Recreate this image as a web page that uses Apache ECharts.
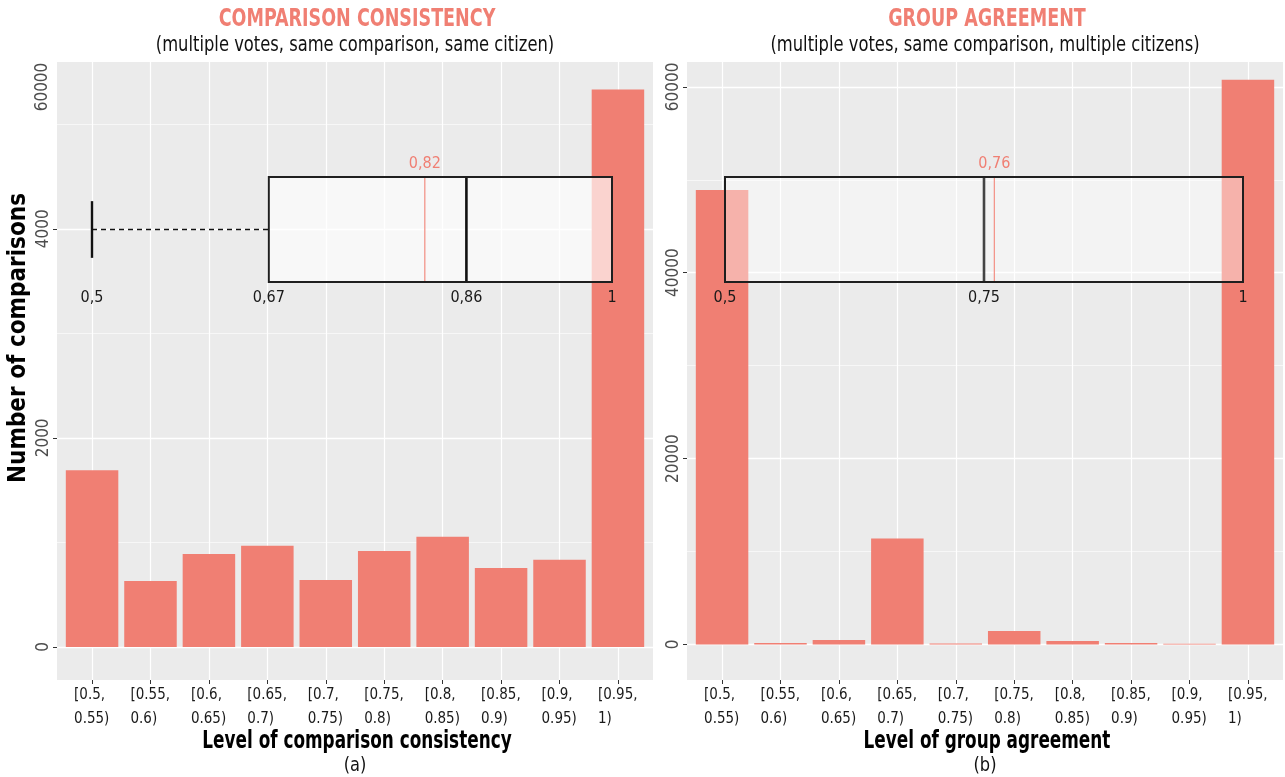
<!DOCTYPE html>
<html>
<head>
<meta charset="utf-8">
<script src="https://cdn.jsdelivr.net/npm/echarts@6/dist/echarts.min.js"></script>
<style>
  html, body { margin: 0; padding: 0; background: #ffffff; }
  #chart { width: 1285px; height: 777px; }
</style>
</head>
<body>
<div id="chart"></div>
<script>
// ---- data -------------------------------------------------------------
const categories = [
  '[0.5, 0.55)', '[0.55, 0.6)', '[0.6, 0.65)', '[0.65, 0.7)', '[0.7, 0.75)',
  '[0.75, 0.8)', '[0.8, 0.85)', '[0.85, 0.9)', '[0.9, 0.95)', '[0.95, 1)'
];
// number of comparisons per level of comparison consistency
const consistencyCounts = [1690, 632, 890, 967, 641, 919, 1053, 756, 833, 5331];
// number of comparisons per level of group agreement
const agreementCounts = [48900, 150, 480, 11400, 100, 1450, 380, 170, 90, 60760];

const consistencyTicks = [0, 2000, 4000];
const consistencyMinorTicks = [1000, 3000, 5000];
const consistencyTopLabel = '60000';
const agreementTicks = [0, 20000, 40000, 60000];
const agreementMinorTicks = [10000, 30000, 50000];

// box summaries: [min, q1, median, q3, max]
const consistencyBox = [0.5, 0.67, 0.86, 1, 1];
const consistencyMean = 0.82;
const agreementBox = [0.5, 0.5, 0.75, 1, 1];
const agreementMean = 0.76;

const titles = ['COMPARISON CONSISTENCY', 'GROUP AGREEMENT'];
const subtitles = [
  '(multiple votes, same comparison, same citizen)',
  '(multiple votes, same comparison, multiple citizens)'
];
const xTitles = ['Level of comparison consistency', 'Level of group agreement'];
const panelTags = ['(a)', '(b)'];
const yTitle = 'Number of comparisons';

// ---- style ------------------------------------------------------------
const FONT = "'DejaVu Sans Condensed', 'Liberation Sans Narrow', 'Noto Sans', sans-serif";
const BAR = '#F07F73';
const PANEL_BG = '#EBEBEB';
const TOP = 62, BOTTOM = 97;
const panels = [
  { left: 57, right: 632, center: 355, yMin: -316, yMax: 5595 },
  { left: 687, right: 2, center: 985, yMin: -3821, yMax: 62669 }
];
const boxGrids = [
  { left: 92, width: 520 },
  { left: 725, width: 518 }
];
const BOX_TOP = 177, BOX_H = 105;

// fixed-width rich styles so the two lines of each tick label are left-aligned
const TICK_FS = 15;
const measureCtx = document.createElement('canvas').getContext('2d');
measureCtx.font = TICK_FS + 'px ' + FONT;
const rich = {};
categories.forEach((c, i) => {
  const w = Math.max(...c.split(' ').map(s => measureCtx.measureText(s).width));
  rich['c' + i] = { width: Math.ceil(w), align: 'left', fontSize: TICK_FS, lineHeight: 24,
                    fontFamily: FONT, color: '#1a1a1a' };
});
function catLabel(v) {
  const i = Math.round(v) - 1;
  if (i < 0 || i >= categories.length) return '';
  return categories[i].split(' ').map(s => '{c' + i + '|' + s + '}').join('\n');
}
const catPositions = categories.map((_, i) => i + 1);
const fmtComma = v => String(v).replace('.', ',');

function boxRenderer(fillAlpha, medianColor) {
  return function (params, api) {
    const q = [0, 1, 2, 3, 4].map(i => api.value(i));
    const mean = api.value(5);
    const x = v => api.coord([v, 0.5])[0];
    const yTop = api.coord([0.5, 1])[1];
    const yBot = api.coord([0.5, 0])[1];
    const yMid = (yTop + yBot) / 2;
    const cap = (yBot - yTop) * 0.27;
    const children = [];
    const whisker = (a, b) => {
      children.push({ type: 'line', shape: { x1: x(a), y1: yMid, x2: x(b), y2: yMid },
        style: { stroke: '#111', lineWidth: 1.4, lineDash: [5, 4] } });
      children.push({ type: 'line', shape: { x1: x(a), y1: yMid - cap, x2: x(a), y2: yMid + cap },
        style: { stroke: '#111', lineWidth: 2.4 } });
    };
    if (q[0] < q[1]) whisker(q[0], q[1]);
    if (q[4] > q[3]) whisker(q[4], q[3]);
    children.push({ type: 'rect',
      shape: { x: x(q[1]), y: yTop, width: x(q[3]) - x(q[1]), height: yBot - yTop },
      style: { fill: 'rgba(255,255,255,' + fillAlpha + ')', stroke: '#1f1f1f', lineWidth: 2 } });
    children.push({ type: 'line', shape: { x1: x(mean), y1: yTop + 1, x2: x(mean), y2: yBot - 1 },
      style: { stroke: '#F3968B', lineWidth: 1.3 } });
    children.push({ type: 'line', shape: { x1: x(q[2]), y1: yTop + 1, x2: x(q[2]), y2: yBot - 1 },
      style: { stroke: medianColor, lineWidth: 2.6 } });
    children.push({ type: 'text', style: { text: fmtComma(mean), x: x(mean), y: yTop - 13,
      fill: BAR, fontSize: 16, fontFamily: FONT, align: 'center', verticalAlign: 'middle' } });
    const shown = [...new Set(q)];
    shown.forEach(v => children.push({ type: 'text', style: { text: fmtComma(v), x: x(v), y: yBot + 16,
      fill: '#1a1a1a', fontSize: 16, fontFamily: FONT, align: 'center', verticalAlign: 'middle' } }));
    return { type: 'group', children };
  };
}

// ---- option -----------------------------------------------------------
const grid = [];
const xAxis = [];
const yAxis = [];
const series = [];

panels.forEach((p, k) => {
  grid.push({ left: p.left, right: p.right, top: TOP, bottom: BOTTOM, show: true,
              backgroundColor: PANEL_BG, borderWidth: 0 });
  xAxis.push({
    type: 'value', gridIndex: k, min: 0.4, max: 10.6,
    axisLine: { show: false, onZero: false },
    axisTick: { show: true, customValues: catPositions, length: 4,
                lineStyle: { color: '#333', width: 1 } },
    axisLabel: { customValues: catPositions, formatter: catLabel, rich, margin: 3,
                 align: 'center', verticalAlign: 'top' },
    splitLine: { show: true, lineStyle: { color: '#fff', width: 1.2 } }
  });
  const major = k === 0 ? consistencyTicks : agreementTicks;
  const minor = k === 0 ? consistencyMinorTicks : agreementMinorTicks;
  yAxis.push({
    type: 'value', gridIndex: k, min: p.yMin, max: p.yMax, position: 'left',
    axisLine: { show: false },
    axisTick: { show: true, customValues: major, length: 4, lineStyle: { color: '#333', width: 1 } },
    axisLabel: { customValues: major, formatter: v => String(v), rotate: 90, margin: 5,
                 fontFamily: FONT, fontSize: 17, color: '#4d4d4d' },
    splitLine: { show: true, lineStyle: { color: '#fff', width: 1.3 } }
  });
  yAxis.push({
    type: 'value', gridIndex: k, min: p.yMin, max: p.yMax, position: 'right',
    axisLine: { show: false }, axisLabel: { show: false },
    axisTick: { show: false, customValues: minor },
    splitLine: { show: true, lineStyle: { color: '#fff', width: 0.6 } }
  });
  const counts = k === 0 ? consistencyCounts : agreementCounts;
  series.push({
    type: 'bar', xAxisIndex: k, yAxisIndex: k * 2,
    data: counts.map((v, i) => [catPositions[i], v]),
    barWidth: 52.5, itemStyle: { color: BAR }, silent: true, z: 2
  });
});

boxGrids.forEach((b, k) => {
  grid.push({ left: b.left, width: b.width, top: BOX_TOP, height: BOX_H, show: false });
  xAxis.push({ type: 'value', gridIndex: 2 + k, min: 0.5, max: 1, show: false });
  yAxis.push({ type: 'value', gridIndex: 2 + k, min: 0, max: 1, show: false });
  const box = k === 0 ? consistencyBox : agreementBox;
  const mean = k === 0 ? consistencyMean : agreementMean;
  series.push({
    type: 'custom', xAxisIndex: 2 + k, yAxisIndex: 4 + k, z: 10, silent: true,
    renderItem: boxRenderer(k === 0 ? 0.66 : 0.4, k === 0 ? '#111' : '#444'),
    data: [box.concat([mean])]
  });
});

// headings and axis titles, set in a condensed face
function label(text, x, y, size, weight, color, scaleX, rotation) {
  return { type: 'text', x, y, scaleX: scaleX || 1, rotation: rotation || 0, silent: true,
    style: { text, fontFamily: FONT, fontSize: size, fontWeight: weight, fill: color,
             align: 'center', verticalAlign: 'middle' } };
}
const graphic = [
  { type: 'text', x: 43, y: 87, rotation: Math.PI / 2, silent: true,
    style: { text: consistencyTopLabel, fontFamily: FONT, fontSize: 17, fill: '#4d4d4d',
             align: 'center', verticalAlign: 'middle' } },
  label(yTitle, 19, 338, 24, 'bold', '#000', 1.0, Math.PI / 2)
];
panels.forEach((p, k) => {
  graphic.push(label(titles[k], p.center + 2, 19, 25, 'bold', BAR, 0.78));
  graphic.push(label(subtitles[k], p.center, 46, 21, 'normal', '#111', 0.865));
  graphic.push(label(xTitles[k], p.center + 2, 741, 25, 'bold', '#000', 0.75));
  graphic.push(label(panelTags[k], p.center, 766, 19, 'normal', '#111', 0.95));
});

const chart = echarts.init(document.getElementById('chart'), null, { renderer: 'canvas' });
chart.setOption({
  animation: false,
  backgroundColor: '#ffffff',
  grid, xAxis, yAxis, series, graphic
});
</script>
</body>
</html>
